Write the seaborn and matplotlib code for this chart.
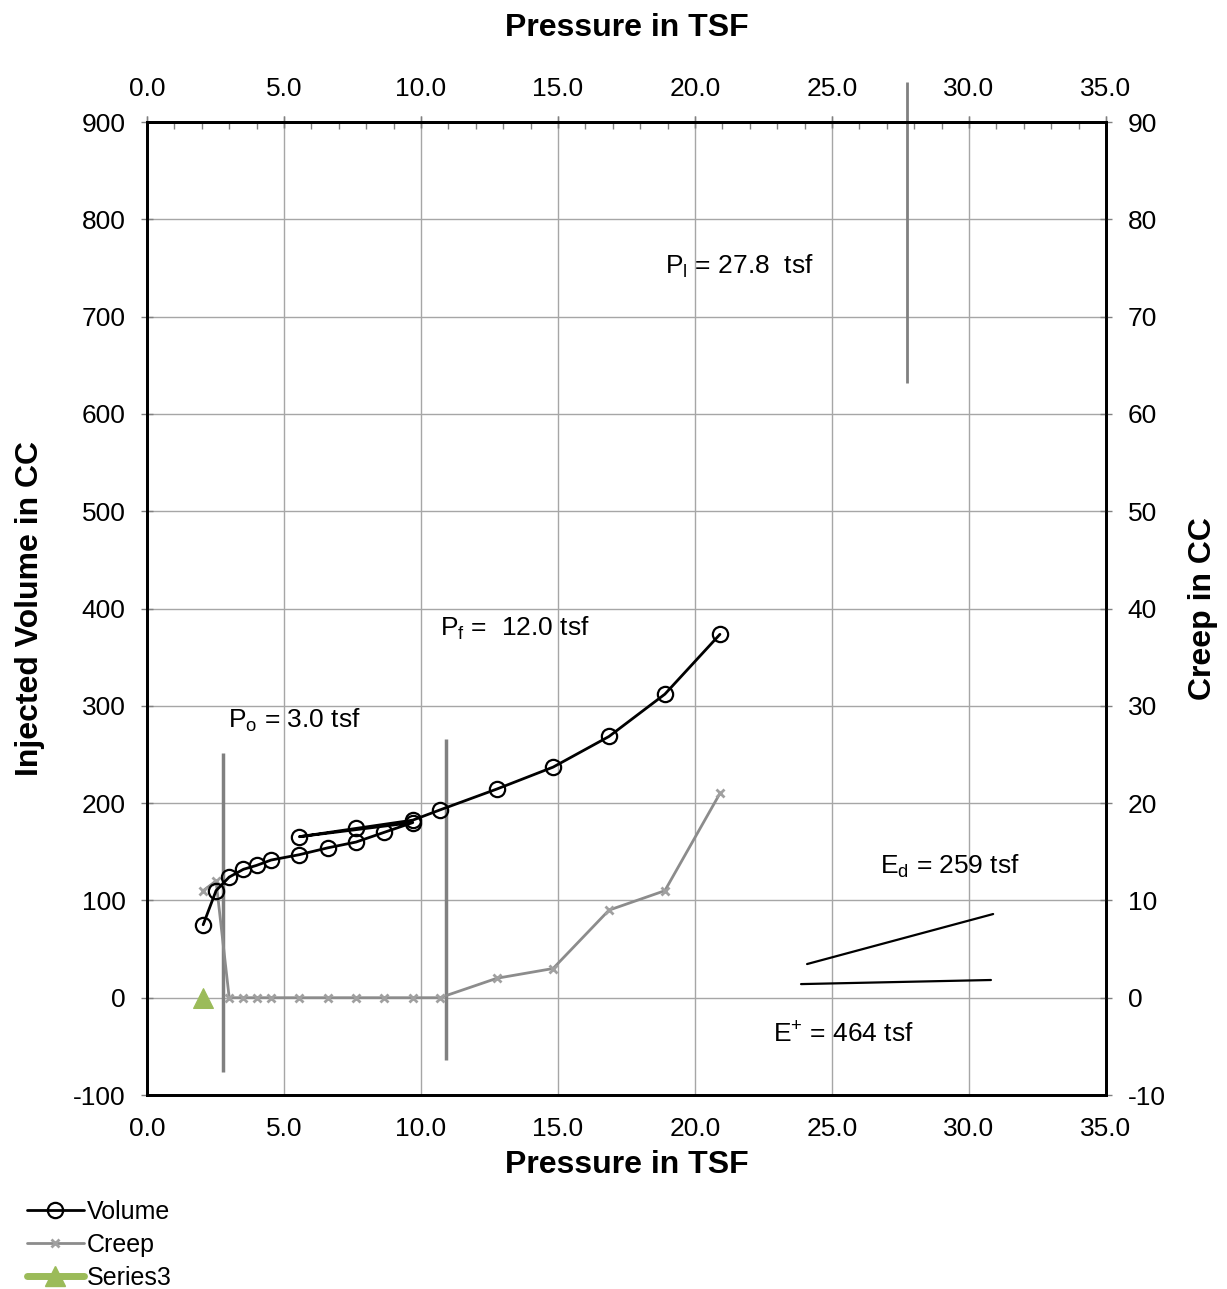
import numpy as np
import pandas as pd
import matplotlib
matplotlib.use("Agg")
import matplotlib.pyplot as plt
import seaborn as sns
from matplotlib.ticker import MultipleLocator, FormatStrFormatter
from matplotlib.lines import Line2D

# ---------------- data ----------------
vol_pressure = [2.05, 2.52, 3.0, 3.52, 4.0, 4.53, 5.56, 6.59, 7.63, 8.66, 9.70,
                5.56, 7.63, 9.70, 10.69, 12.77, 14.82, 16.86, 18.90, 20.91]
vol_cc = [75, 110, 124, 132, 136, 141.5, 147, 154, 160, 170, 180,
          165.5, 174, 182.5, 193, 214.5, 237, 268.5, 312, 373.5]

creep_pressure = [2.05, 2.52, 3.0, 3.52, 4.0, 4.53, 5.56, 6.59, 7.63, 8.66, 9.70,
                  10.69, 12.77, 14.82, 16.86, 18.90, 20.91]
creep_cc = [11, 12, 0, 0, 0, 0, 0, 0, 0, 0, 0, 0, 2, 3, 9, 11, 21]

series3_pressure = [2.05]
series3_val = [0]

# limit-pressure marker lines (pressure, y_start, y_end) in volume units
po_line_x = [2.77, 2.77]
po_line_y = [252, -76]
pf_line_x = [10.91, 10.91]
pf_line_y = [266, -64]
pl_line_x = [27.74, 27.74]
pl_line_y = [941, 632]

# modulus lines
ed_line_x = [24.09, 30.88]
ed_line_y = [34.6, 86]
ep_line_x = [23.87, 30.80]
ep_line_y = [14, 18.2]

x_ticks = [0, 5, 10, 15, 20, 25, 30, 35]
y_left_ticks = list(range(-100, 901, 100))
y_right_ticks = list(range(-10, 91, 10))

# ---------------- style ----------------
sns.set_style("white")
plt.rcParams['font.family'] = ['Liberation Sans', 'DejaVu Sans']
plt.rcParams['mathtext.default'] = 'regular'
plt.rcParams['axes.unicode_minus'] = False
for k in ['text.color', 'axes.labelcolor', 'xtick.labelcolor', 'ytick.labelcolor']:
    plt.rcParams[k] = 'black'

fig = plt.figure(figsize=(12.27, 12.89), dpi=100)
ax = fig.add_axes([0.1198, 0.1505, 0.7816, 0.7548])

grid_c = '#a6a6a6'
tick_fs = 19
lab_fs = 23
ax.set_xlim(0, 35)
ax.set_ylim(-100, 900)
ax.set_xticks(x_ticks)
ax.set_yticks(y_left_ticks)
ax.xaxis.set_minor_locator(MultipleLocator(1))
ax.xaxis.set_major_formatter(FormatStrFormatter('%.1f'))
ax.grid(True, which='major', color=grid_c, lw=1)
ax.set_axisbelow(True)
for s in ax.spines.values():
    s.set_color('black')
    s.set_linewidth(2)
ax.tick_params(axis='both', which='major', direction='inout', length=9, width=1,
               color='#808080', labelcolor='black', labelsize=tick_fs, pad=11)
ax.tick_params(axis='x', which='minor', direction='in', length=5, width=1,
               color='#808080', top=True)
ax.tick_params(axis='x', which='major', top=True)

# data series
df_vol = pd.DataFrame({'p': vol_pressure, 'v': vol_cc})
df_creep = pd.DataFrame({'p': creep_pressure, 'c': np.array(creep_cc) * 10})
df_s3 = pd.DataFrame({'p': series3_pressure, 'v': series3_val})

sns.lineplot(data=df_creep, x='p', y='c', sort=False, estimator=None, ax=ax,
             color='#8c8c8c', lw=2, marker='x', markersize=6, mew=2,
             markeredgecolor='#a0a0a0', zorder=3)
sns.lineplot(data=df_vol, x='p', y='v', sort=False, estimator=None, ax=ax,
             color='black', lw=2, marker='o', markersize=11,
             markerfacecolor='none', markeredgecolor='black', mew=1.6, zorder=4)
sns.lineplot(data=df_s3, x='p', y='v', sort=False, estimator=None, ax=ax,
             color='#9bbb59', lw=5, marker='^', markersize=15,
             markeredgecolor='#9bbb59', zorder=5)

# marker lines
for lx, ly in [(po_line_x, po_line_y), (pf_line_x, pf_line_y)]:
    ax.plot(lx, ly, color='#808080', lw=2.5, zorder=2, solid_capstyle='butt')
ax.plot(pl_line_x, pl_line_y, color='#808080', lw=2, zorder=2, clip_on=False,
        solid_capstyle='butt')
ax.plot(ed_line_x, ed_line_y, color='black', lw=1.6, zorder=3)
ax.plot(ep_line_x, ep_line_y, color='black', lw=1.6, zorder=3)

# annotations
tfs = 19
ax.text(2.96, 285, r'P$_{o}$ = 3.0 tsf', fontsize=tfs, ha='left', va='center')
ax.text(10.69, 380, r'P$_{f}$ =  12.0 tsf', fontsize=tfs, ha='left', va='center')
ax.text(18.9, 752, r'P$_{l}$ = 27.8  tsf', fontsize=tfs, ha='left', va='center')
ax.text(26.75, 135, r'E$_{d}$ = 259 tsf', fontsize=tfs, ha='left', va='center')
ax.text(22.85, -38, r'E$^{+}$ = 464 tsf', fontsize=tfs, ha='left', va='center')

ax.set_xlabel('Pressure in TSF', fontsize=lab_fs, fontweight='bold', labelpad=7)
ax.set_ylabel('Injected Volume in CC', fontsize=lab_fs, fontweight='bold', labelpad=20)

# top axis
axt = ax.secondary_xaxis('top')
axt.set_xticks(x_ticks)
axt.xaxis.set_major_formatter(FormatStrFormatter('%.1f'))
axt.tick_params(axis='x', which='major', direction='inout', length=9, width=1,
                color='#808080', labelcolor='black', labelsize=tick_fs, pad=11)
axt.tick_params(axis='x', which='minor', length=0)
axt.spines['top'].set_linewidth(2)
axt.set_xlabel('Pressure in TSF', fontsize=lab_fs, fontweight='bold', labelpad=29)

# right axis
axr = ax.twinx()
axr.set_ylim(-10, 90)
axr.set_yticks(y_right_ticks)
axr.tick_params(axis='y', which='major', direction='inout', length=9, width=1,
                color='#808080', labelcolor='black', labelsize=tick_fs, pad=11)
for s in axr.spines.values():
    s.set_linewidth(2)
    s.set_color('black')
axr.set_ylabel('Creep in CC', fontsize=lab_fs, fontweight='bold', labelpad=16)
axr.grid(False)

# legend
handles = [
    Line2D([], [], color='black', lw=2, marker='o', markersize=11,
           markerfacecolor='none', mew=1.6),
    Line2D([], [], color='#8c8c8c', lw=2, marker='x', markersize=6, mew=2,
           markeredgecolor='#a0a0a0'),
    Line2D([], [], color='#9bbb59', lw=5, marker='^', markersize=15),
]
fig.legend(handles, ['Volume', 'Creep', 'Series3'], loc='upper left',
           bbox_to_anchor=(0.0135, 0.077), frameon=False, fontsize=18,
           handlelength=2.3, handletextpad=0.1, labelspacing=0.36,
           borderaxespad=0)

fig.savefig('out.png', dpi=100)
